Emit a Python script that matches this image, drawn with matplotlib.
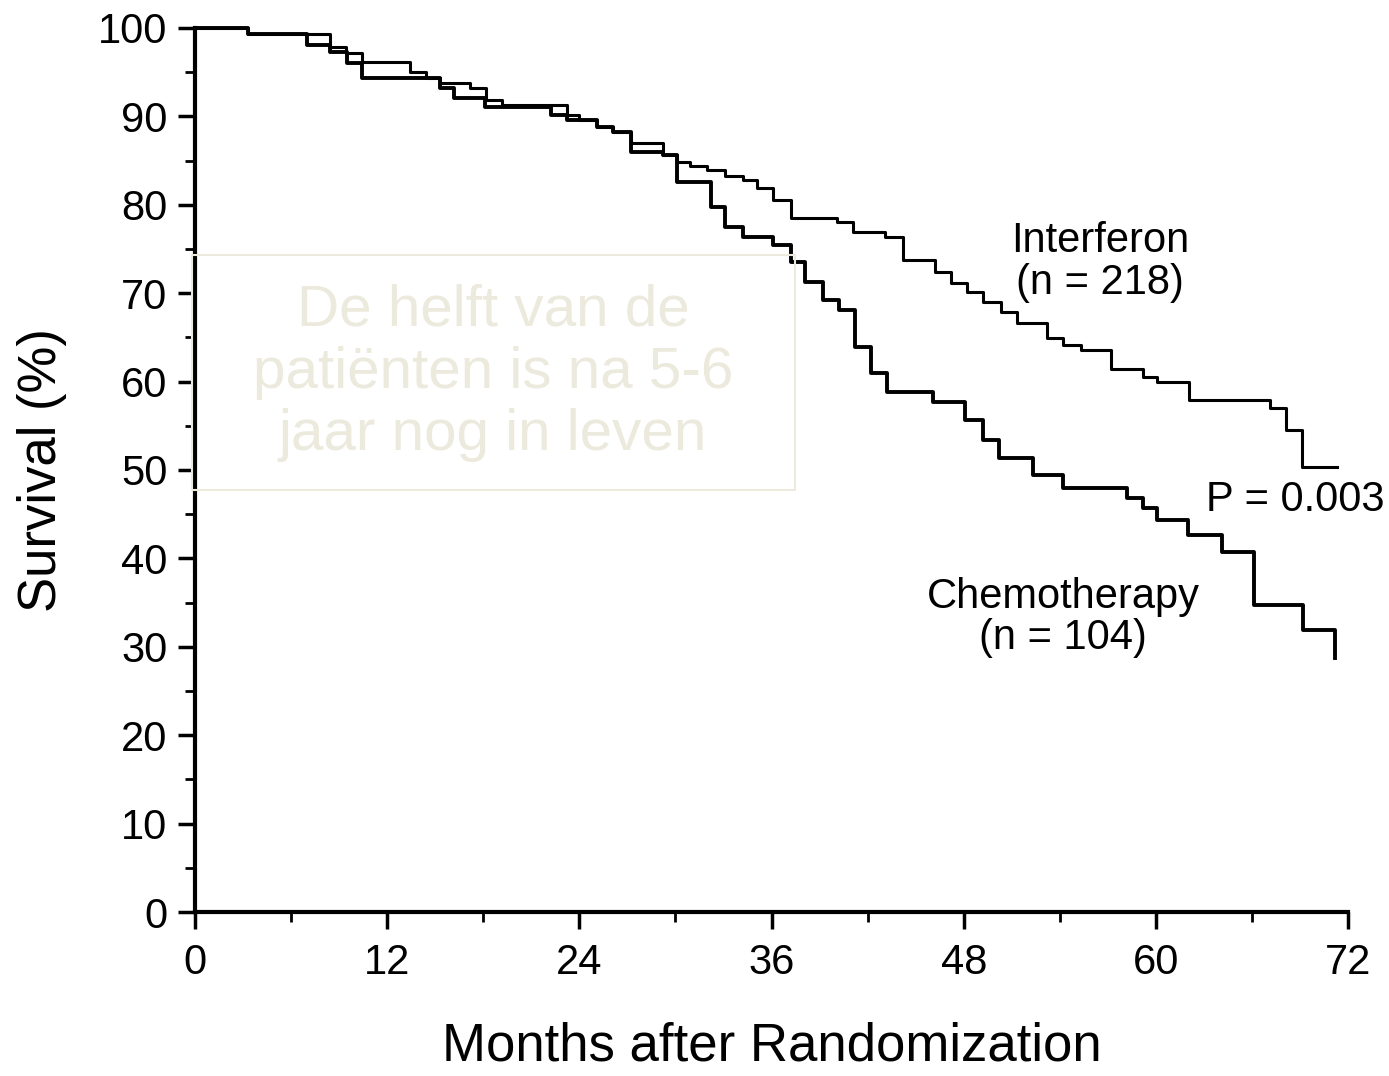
import matplotlib
matplotlib.use('Agg')
import matplotlib.pyplot as plt
from matplotlib.patches import Rectangle

plt.rcParams['font.family'] = ['Liberation Sans', 'DejaVu Sans']

## Kaplan-Meier curves (months, survival %)
t_ifn = [0, 3.3, 8.4, 9.4, 10.4, 13.4, 14.4, 15.3, 17.2, 18.2, 19.2, 23.2, 24.0, 25.1,
         26.1, 27.2, 29.2, 30.1, 30.9, 32.0, 33.1, 34.2, 35.1, 36.1, 37.2, 40.1, 41.1,
         43.1, 44.2, 46.2, 47.2, 48.2, 49.2, 50.3, 51.3, 53.2, 54.2, 55.3, 57.2, 59.2,
         60.1, 62.1, 67.1, 68.1, 69.1, 71.3]
s_ifn = [100, 99.3, 97.8, 97.2, 96.2, 95.0, 94.3, 93.8, 93.2, 91.9, 91.3, 90.2, 89.6, 88.8,
         88.2, 87.0, 85.6, 84.8, 84.4, 83.9, 83.3, 82.8, 81.9, 80.5, 78.5, 78.1, 76.9,
         76.4, 73.8, 72.4, 71.1, 70.1, 69.0, 67.9, 66.6, 64.9, 64.1, 63.6, 61.4, 60.5,
         60.0, 57.9, 57.0, 54.5, 50.3, 50.3]

t_chemo = [0, 3.3, 7.0, 8.4, 9.5, 10.4, 15.3, 16.2, 18.1, 22.2, 23.2, 25.1, 26.1, 27.2,
           29.2, 30.1, 32.2, 33.1, 34.2, 36.1, 37.2, 38.1, 39.2, 40.2, 41.2, 42.2, 43.2,
           46.1, 48.1, 49.2, 50.2, 52.3, 54.2, 58.2, 59.2, 60.1, 62.0, 64.1, 66.1, 69.2,
           71.2, 71.2]
s_chemo = [100, 99.3, 98.1, 97.3, 96.0, 94.3, 93.2, 92.1, 91.1, 90.2, 89.6, 88.8, 88.2, 86.0,
           85.6, 82.6, 79.8, 77.5, 76.4, 75.5, 73.5, 71.3, 69.2, 68.1, 63.9, 61.0, 58.8,
           57.7, 55.7, 53.4, 51.4, 49.4, 48.0, 46.8, 45.7, 44.3, 42.6, 40.7, 34.7, 31.9,
           31.9, 28.7]

xticks = [0, 12, 24, 36, 48, 60, 72]
yticks = [0, 10, 20, 30, 40, 50, 60, 70, 80, 90, 100]

fig = plt.figure(figsize=(13.89, 10.76), dpi=100)
ax = fig.add_axes([0.1404, 0.1524, 0.8301, 0.8216])

ax.step(t_ifn, s_ifn, where='post', color='black', lw=2.2, clip_on=False)
ax.step(t_chemo, s_chemo, where='post', color='black', lw=2.8, clip_on=False)

ax.set_xlim(0, 72)
ax.set_ylim(0, 100)
ax.spines['top'].set_visible(False)
ax.spines['right'].set_visible(False)
ax.spines['left'].set_linewidth(3)
ax.spines['bottom'].set_linewidth(3)

ax.set_xticks(xticks)
ax.set_xticks([6, 18, 30, 42, 54, 66], minor=True)
ax.set_yticks(yticks)
ax.set_yticks([5, 15, 25, 35, 45, 55, 65, 75, 85, 95], minor=True)
ax.tick_params(axis='both', which='major', labelsize=30, width=2.5, length=12)
ax.tick_params(axis='both', which='minor', width=2, length=7)
ax.tick_params(axis='x', which='major', pad=10)
ax.tick_params(axis='y', which='major', pad=8)

ax.set_xlabel('Months after Randomization', fontsize=38, labelpad=28)
ax.set_ylabel('Survival (%)', fontsize=38, labelpad=22)

## labels on the plot
ax.text(56.5, 73.5, 'Interferon\n(n = 218)', fontsize=30, ha='center', va='center',
        linespacing=1.05)
ax.text(54.2, 33.3, 'Chemotherapy\n(n = 104)', fontsize=30, ha='center', va='center',
        linespacing=1.05)
ax.text(68.7, 46.6, 'P = 0.003', fontsize=30, ha='center', va='center', clip_on=False)

## faint overlay box
beige = '#ECE9DD'
fig.patches.append(Rectangle((192/1389, 1-490/1076), 603/1389, 235/1076,
                             transform=fig.transFigure, facecolor='none',
                             edgecolor=beige, lw=1.5))
fig.text(493/1389, 1-373/1076, 'De helft van de\npatiënten is na 5-6\njaar nog in leven',
         fontsize=42, color=beige, ha='center', va='center', linespacing=1.2)

plt.savefig('out.png', dpi=100)
